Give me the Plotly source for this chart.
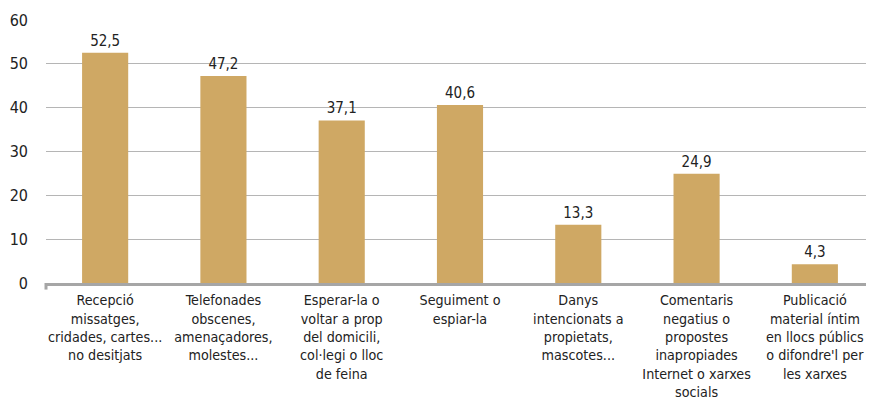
import plotly.graph_objects as go

categories = [
    "Recepció<br>missatges,<br>cridades, cartes...<br>no desitjats",
    "Telefonades<br>obscenes,<br>amenaçadores,<br>molestes...",
    "Esperar-la o<br>voltar a prop<br>del domicili,<br>col·legi o lloc<br>de feina",
    "Seguiment o<br>espiar-la",
    "Danys<br>intencionats a<br>propietats,<br>mascotes...",
    "Comentaris<br>negatius o<br>propostes<br>inapropiades<br>Internet o xarxes<br>socials",
    "Publicació<br>material íntim<br>en llocs públics<br>o difondre'l per<br>les xarxes",
]
values = [52.5, 47.2, 37.1, 40.6, 13.3, 24.9, 4.3]
y_ticks = [0, 10, 20, 30, 40, 50, 60]

FONT = "DejaVu Sans Condensed, Liberation Sans Narrow, sans-serif"

fig = go.Figure(go.Bar(
    x=list(range(len(categories))),
    y=values,
    marker=dict(color="#CFA864", line=dict(width=0)),
    width=0.39,
    text=values,
    texttemplate="%{y:.1f}",
    textposition="outside",
    textfont=dict(family=FONT, size=15, color="#222"),
    cliponaxis=False,
))

# page body has an 8px default margin; figure sized to fill the rest
fig.update_layout(
    width=866, height=395,
    margin=dict(l=38, r=0, t=12, b=120),
    paper_bgcolor="white", plot_bgcolor="white",
    separators=",.",
    showlegend=False,
    font=dict(family=FONT, size=14, color="#222"),
)
fig.update_xaxes(
    tickmode="array",
    tickvals=list(range(len(categories))),
    ticktext=categories,
    range=[-0.5, len(categories) - 0.5],
    showline=True, linecolor="#A6A6A6", linewidth=3,
    ticks="", showgrid=False, automargin=False,
    ticklabelstandoff=2,
    tickfont=dict(family=FONT, size=14.2, color="#222"),
    tickangle=0,
)
fig.update_yaxes(
    range=[0, 60],
    tickvals=y_ticks,
    showgrid=True, gridcolor="#B5B5B5", gridwidth=1.3,
    zeroline=False, automargin=False,
    ticks="", ticklabelstandoff=17,
    tickfont=dict(family=FONT, size=16, color="#222"),
)
fig.add_shape(type="line", xref="paper", yref="paper",
              x0=0, x1=0, y0=0, y1=-0.025,
              line=dict(color="#A6A6A6", width=3))

fig.write_html("out.html")
